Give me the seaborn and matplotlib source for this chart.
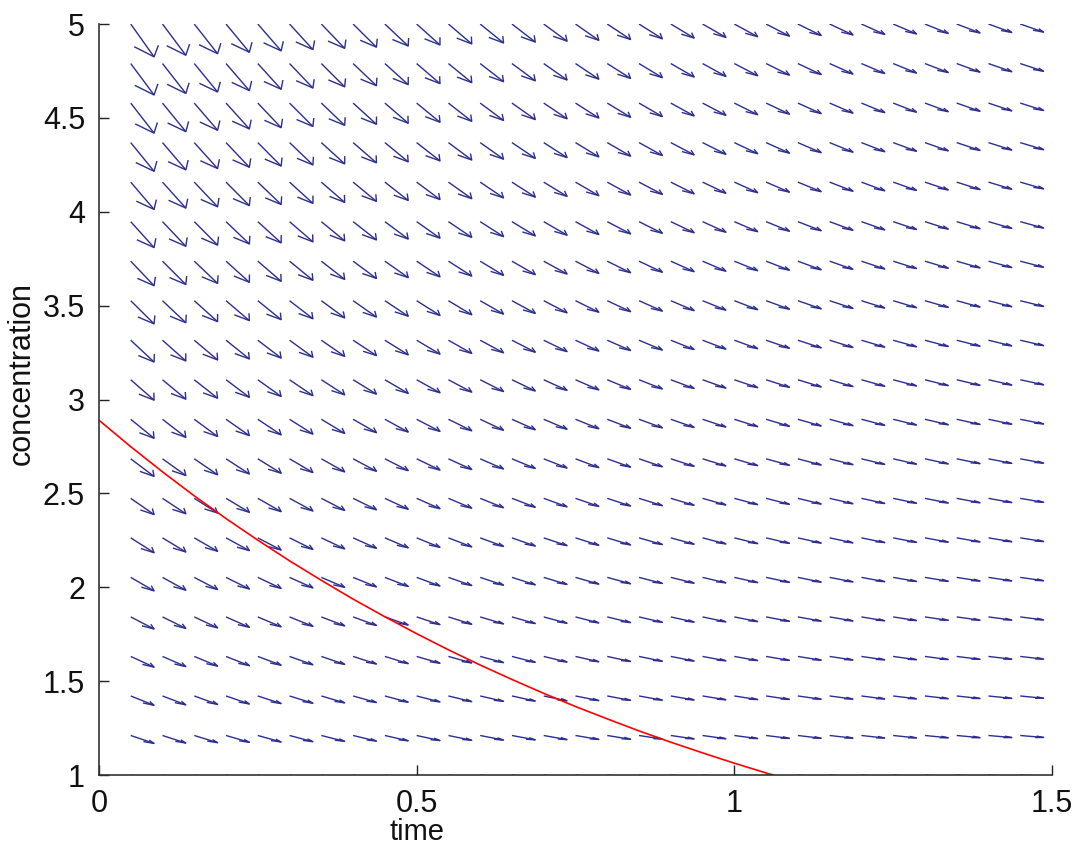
import numpy as np
import pandas as pd
import matplotlib
matplotlib.use('Agg')
import matplotlib.pyplot as plt
import seaborn as sns
from matplotlib.collections import LineCollection

# direction field grid (tails of the arrows)
t_grid = np.linspace(0.05, 1.5, 30)
c_rows = np.linspace(1.0, 5.0, 20)

# field plotted: dc/dt = -c * exp(-t)
def rate(t, c):
    return -c * np.exp(-t)

# red curve
curve_t = [0.0, 0.05, 0.1, 0.15, 0.2, 0.25, 0.3, 0.35, 0.4, 0.45, 0.5, 0.55,
           0.6, 0.65, 0.7, 0.75, 0.8, 0.85, 0.9, 0.95, 1.0, 1.05, 1.07]
curve_c = [2.89, 2.749, 2.615, 2.487, 2.366, 2.251, 2.141, 2.037, 1.937, 1.843, 1.753, 1.667,
           1.586, 1.509, 1.435, 1.365, 1.299, 1.235, 1.175, 1.118, 1.063, 1.011, 0.991]

xticks = [0, 0.5, 1, 1.5]
xtick_labels = ['0', '0.5', '1', '1.5']
yticks = [1, 1.5, 2, 2.5, 3, 3.5, 4, 4.5, 5]
ytick_labels = ['1', '1.5', '2', '2.5', '3', '3.5', '4', '4.5', '5']

sns.set_style('ticks')
plt.rcParams['font.family'] = ['Liberation Sans', 'DejaVu Sans']

fig = plt.figure(figsize=(10.78, 8.46), dpi=100)
ax = fig.add_axes([0.0918, 0.0839, 0.8841, 0.8877])

# quiver, matlab style open heads (computed in data units)
s = 0.0367
alpha, beta = 0.33, 0.33
T, C = np.meshgrid(t_grid, c_rows)
U = np.ones_like(T) * s
V = rate(T, C) * s
tx, ty = T + U, C + V
lines = []
for x0, y0, u, v, x1, y1 in zip(T.ravel(), C.ravel(), U.ravel(), V.ravel(), tx.ravel(), ty.ravel()):
    lines.append([(x0, y0), (x1, y1)])
    lines.append([(x1 - alpha * (u + beta * v), y1 - alpha * (v - beta * u)),
                  (x1, y1),
                  (x1 - alpha * (u - beta * v), y1 - alpha * (v + beta * u))])
ax.add_collection(LineCollection(lines, colors='#2d2e91', linewidths=1.0))

df = pd.DataFrame({'time': curve_t, 'concentration': curve_c})
sns.lineplot(data=df, x='time', y='concentration', color='#ff0000', linewidth=1.2, ax=ax, sort=False)

ax.set_xlim(0, 1.5)
ax.set_ylim(1, 5)
ax.set_xticks(xticks)
ax.set_xticklabels(xtick_labels)
ax.set_yticks(yticks)
ax.set_yticklabels(ytick_labels)
ax.tick_params(direction='in', length=7.2, width=1, colors='#222222', labelsize=22, labelcolor='#111111')
ax.tick_params(axis='x', pad=10)
ax.tick_params(axis='y', pad=10)
for side in ['top', 'right']:
    ax.spines[side].set_visible(False)
for side in ['left', 'bottom']:
    ax.spines[side].set_color('#333333')
    ax.spines[side].set_linewidth(1.2)

ax.set_xlabel('time', fontsize=21, color='#111111', va='baseline')
ax.set_ylabel('concentration', fontsize=22, color='#111111')
ax.xaxis.set_label_coords(0.3337, -0.0859)
ax.yaxis.set_label_coords(-0.065, 0.535)

fig.savefig('out.png', dpi=100)
